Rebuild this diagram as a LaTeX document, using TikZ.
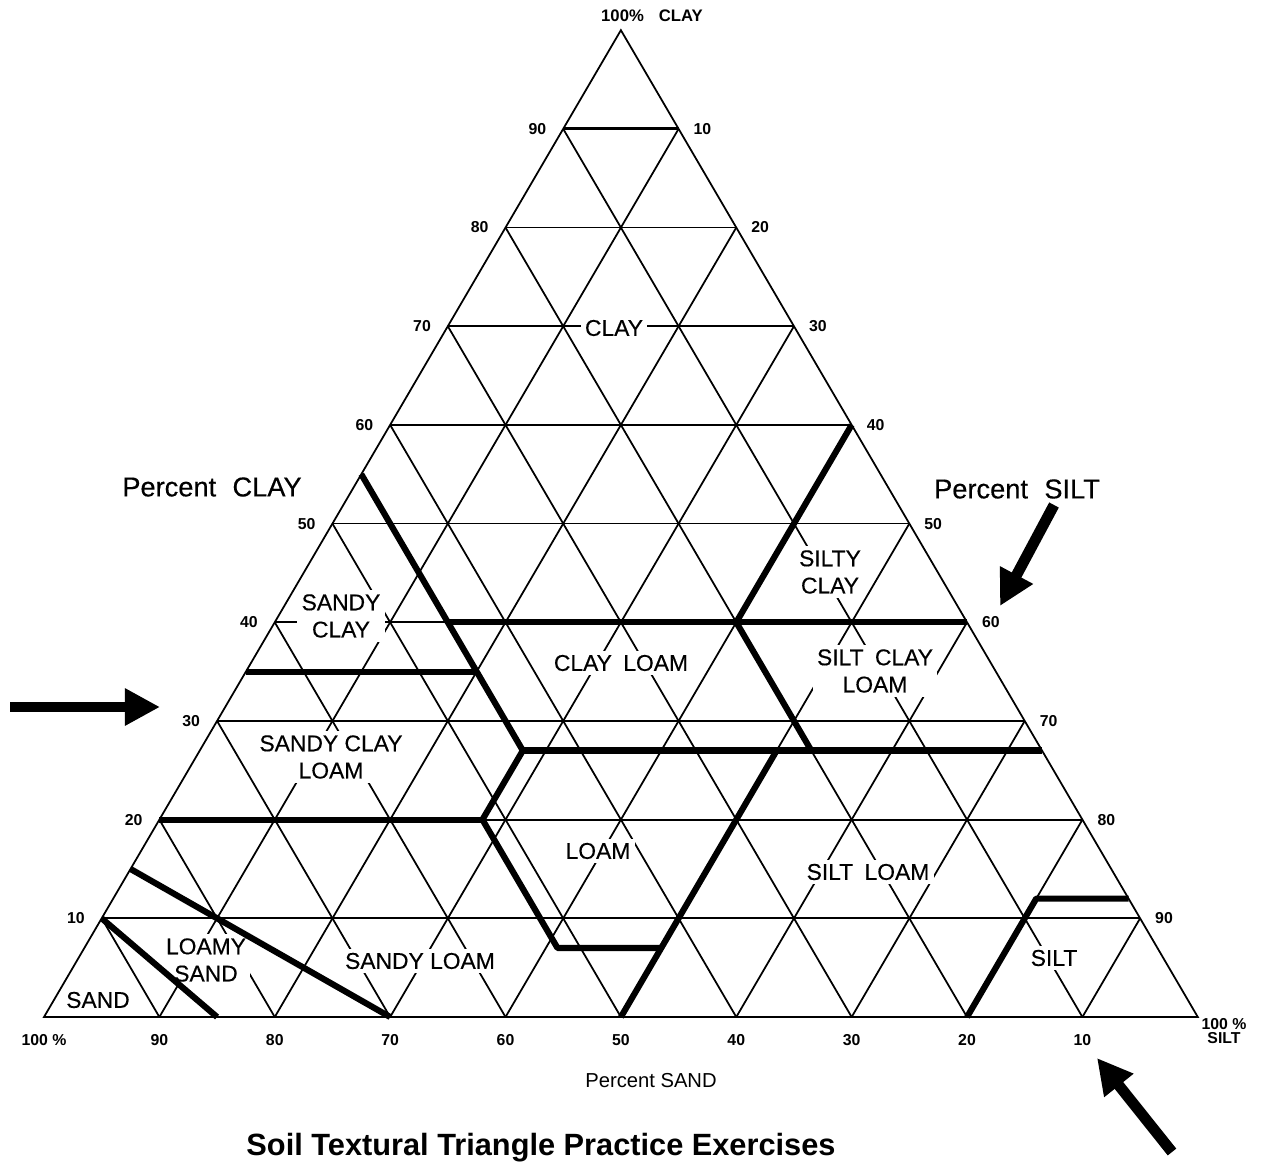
\documentclass[tikz,border=0pt]{standalone}
\usepackage{fontspec}
\setmainfont{Liberation Sans}
\newfontfamily\labelfont{Liberation Sans}[FakeBold=0.35]
\usetikzlibrary{arrows.meta}

\begin{document}
\begin{tikzpicture}[x=0.02cm, y=-0.02cm,
    tern/.style={shift={(44,1017)}, x={(0.2308cm,0cm)}, y={(0.1154cm,0.1974cm)}},
    grid/.style={line width=1pt},
    border/.style={line width=3.5pt, line join=round},
    soil/.style={fill=white, inner sep=2.5pt, align=center, font=\labelfont\fontsize{13}{15.5}\selectfont},
    tick/.style={font=\fontsize{9}{10}\selectfont\bfseries},
    axis/.style={font=\labelfont\fontsize{15.5}{16}\selectfont},
    pointer/.style={line width=6.2pt, -{Triangle[length=20pt,width=20pt]}}]
  \useasboundingbox (0,0) rectangle (1262,1163);

  % grid lines and scale numbers, coordinates are (silt, clay)
  \begin{scope}[tern]
    \foreach \k in {10,20,...,90} {
      \draw[grid] (0,\k) -- ({100-\k},\k);
      \draw[grid] ({100-\k},0) -- (0,{100-\k});
      \draw[grid] (\k,0) -- (\k,{100-\k});
    }
    \draw[grid, line width=1.8pt] (0,90) -- (10,90);
    \foreach \k in {10,20,...,90} {
      \pgfmathtruncatemacro{\r}{100-\k}
      \node[tick, xshift=-14.7pt] (cl\k) at (0,\k) {\k};
      \node[tick, xshift=13.6pt] (si\r) at (\r,\k) {\r};
      \node[tick, yshift=-13pt] (sa\r) at (\k,0) {\r};
    }
    \node[tick, yshift=-13pt] (sa100) at (0,0) {100 \%};
  \end{scope}

  % texture classes
  \node[soil] (clay) at (614,328) {CLAY};
  \node[soil] (siltyclay) at (830,572) {SILTY\\CLAY};
  \node[soil] (sandyclay) at (341,616) {SANDY\\CLAY};
  \node[soil] (clayloam) at (621,663) {CLAY\hspace{0.5em}LOAM};
  \node[soil] (siltclayloam) at (875,671) {SILT\hspace{0.5em}CLAY\\LOAM};
  \node[soil] (sandyclayloam) at (331,757) {SANDY CLAY\\LOAM};
  \node[soil] (loam) at (598,851) {LOAM};
  \node[soil] (siltloam) at (868,872) {SILT\hspace{0.5em}LOAM};
  \node[soil] (loamysand) at (206,960) {LOAMY\\SAND};
  \node[soil] (sandyloam) at (420,961) {SANDY LOAM};
  \node[soil] (sand) at (98,1000) {SAND};
  \node[soil] (silt) at (1054,958) {SILT};

  % class boundaries
  \begin{scope}[tern]
    \draw[grid] (0,0) -- (100,0) -- (0,100) -- cycle;
    \draw[border] (0,55) -- (20,35) -- (28,27) -- (28,20) -- (41,7) -- (50,7);
    \draw[border] (0,35) -- (20,35);
    \draw[border] (15,40) -- (60,40);
    \draw[border] (40,60) -- (40,40) -- (53,27);
    \draw[border] (28,27) -- (73,27);
    \draw[border] (0,20) -- (28,20);
    \draw[border] (50,0) -- (50,27);
    \draw[border] (80,0) -- (80,12) -- (88,12);
    \draw[border] (0,15) -- (30,0);
    \draw[border] (0,10) -- (15,0);
  \end{scope}

  % axis titles
  \node[tick, font=\fontsize{9.5}{10}\selectfont\bfseries] (top) at (652,16) {100\%\hspace{0.9em}CLAY};
  \node[tick, align=center, font=\fontsize{9}{8}\selectfont\bfseries] (corner) at (1224,1031) {100 \%\\SILT};
  \node[axis] (pclay) at (212,487) {Percent\hspace{0.6em}CLAY};
  \node[axis] (psilt) at (1017,489) {Percent\hspace{0.6em}SILT};
  \node[font=\fontsize{11.5}{12}\selectfont] (psand) at (651,1081) {Percent SAND};
  \node[font=\fontsize{17.5}{18}\selectfont\bfseries, anchor=base] (title) at (541,1155) {Soil Textural Triangle Practice Exercises};

  % exercise pointers
  \coordinate (a1) at (10,707);
  \coordinate (a2) at (1054,505);
  \coordinate (a3) at (1172,1152);
  \draw[pointer] (a1) -- (160,707);
  \draw[pointer] (a2) -- (1000,606);
  \draw[pointer] (a3) -- (1097,1058);
\end{tikzpicture}
\end{document}
